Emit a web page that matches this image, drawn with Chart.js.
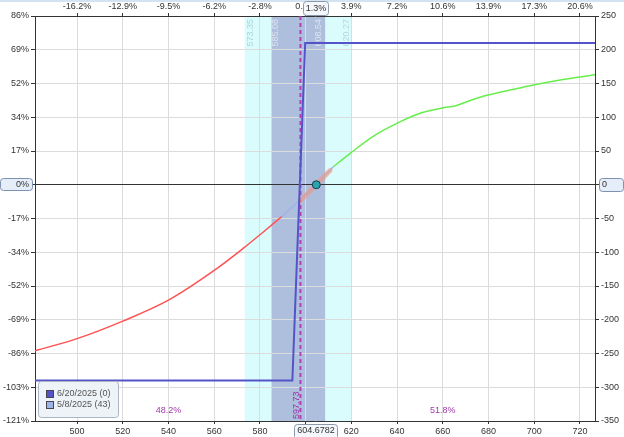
<!DOCTYPE html>
<html>
<head>
<meta charset="utf-8">
<script src="https://cdn.jsdelivr.net/npm/chart.js@4.4.0/dist/chart.umd.min.js"></script>
<style>
  html, body { margin: 0; padding: 0; background: #fff; }
  #wrap { width: 624px; height: 437px; position: relative; }
</style>
</head>
<body>
<div id="wrap"><canvas id="riskChart"></canvas></div>
<script>
// Risk graph - call spread P/L at expiration and today

// price axis
const xMin = 481.6;
const xMax = 726.6;
const xTicks = [500, 520, 540, 560, 580, 600, 620, 640, 660, 680, 700, 720];
const topLabels = ['-16.2%', '-12.9%', '-9.5%', '-6.2%', '-2.8%', '0.0%', '3.9%', '7.2%', '10.6%', '13.9%', '17.3%', '20.6%'];

// P/L axis ($ on the right, % on the left)
const yTicks = [250, 200, 150, 100, 50, 0, -50, -100, -150, -200, -250, -300, -350];
const pctLabels = ['86%', '69%', '52%', '34%', '17%', '0%', '-17%', '-34%', '-52%', '-69%', '-86%', '-103%', '-121%'];

// expiration 6/20/2025
const expPrices = [481.6, 594.2, 599.8, 726.6];
const expPL = [-290, -290, 210, 210];

// today 5/8/2025
const lossPrices = [481.6, 500, 520, 540, 560, 572.8, 581.5, 589.6];
const lossPL = [-246, -228, -202, -171, -127, -94, -70, -47];
const midPrices = [589.6, 604.68, 612.1];
const midPL = [-47, 0, 26.7];
const gainPrices = [612.1, 619.5, 629.7, 639.9, 650.1, 660.3, 665.4, 670.5, 679.3, 690.9, 699.7, 711.4, 726.6];
const gainPL = [26.7, 46.6, 72.2, 91, 105.9, 114.1, 116.7, 123, 132.5, 141.4, 147.8, 155.2, 163];

// delta slope marker round the current price
const deltaPrices = [597.6, 610.7];
const deltaPL = [-24, 21];

const outerBand = [573.35, 620.27];
const innerBand = [585.08, 608.54];
const breakEven = 597.73;
const lastPrice = 604.6782;
const lastPct = '1.3%';
const probLabels = ['48.2%', '51.8%'];
const probPrices = [540, 660];
const probY = -335;

const legendItems = ['6/20/2025 (0)', '5/8/2025 (43)'];
const legendColors = ['#5454c8', '#9db4e6'];

const FONT_FAMILY = '"Liberation Sans", Arial, sans-serif';
const FONT = '9px ' + FONT_FAMILY;

Chart.defaults.font.family = FONT_FAMILY;
Chart.defaults.font.size = 9;

function pts(xs, ys) {
  return xs.map((x, i) => ({ x: x, y: ys[i] }));
}

function box(ctx, x, y, w, h, fill, stroke) {
  ctx.beginPath();
  ctx.roundRect(x + 0.5, y + 0.5, w, h, 3);
  ctx.fillStyle = fill;
  ctx.fill();
  ctx.strokeStyle = stroke;
  ctx.lineWidth = 1;
  ctx.stroke();
}

function vText(ctx, text, x, y, align, color) {
  ctx.save();
  ctx.translate(x, y);
  ctx.rotate(-Math.PI / 2);
  ctx.textAlign = align;
  ctx.textBaseline = 'middle';
  ctx.fillStyle = color;
  ctx.fillText(text, 0, 0);
  ctx.restore();
}

const overlay = {
  id: 'overlay',
  beforeDraw(chart) {
    const { ctx, chartArea: a } = chart;
    const x = chart.scales.x;
    ctx.save();
    ctx.fillStyle = '#d4e3f2';
    ctx.fillRect(0, 0, chart.width, 2);
    const o0 = x.getPixelForValue(outerBand[0]);
    const o1 = x.getPixelForValue(outerBand[1]);
    const i0 = x.getPixelForValue(innerBand[0]);
    const i1 = x.getPixelForValue(innerBand[1]);
    ctx.fillStyle = '#dafcfc';
    ctx.fillRect(o0, a.top, o1 - o0, a.bottom - a.top);
    ctx.fillStyle = '#aebfdd';
    ctx.fillRect(i0, a.top, i1 - i0, a.bottom - a.top);
    ctx.restore();
  },
  beforeDatasetsDraw(chart) {
    const { ctx, chartArea: a } = chart;
    const x = chart.scales.x;
    const y = chart.scales.y;
    ctx.save();
    ctx.font = FONT;
    vText(ctx, outerBand[0].toFixed(2), x.getPixelForValue(outerBand[0]) + 6, a.top + 3, 'right', '#a9d6d8');
    vText(ctx, innerBand[0].toFixed(2), x.getPixelForValue(innerBand[0]) + 4, a.top + 3, 'right', '#dde3ee');
    vText(ctx, innerBand[1].toFixed(2), x.getPixelForValue(innerBand[1]) - 7, a.top + 3, 'right', '#dde3ee');
    vText(ctx, outerBand[1].toFixed(2), x.getPixelForValue(outerBand[1]) - 5, a.top + 3, 'right', '#b4d8e0');

    // break-even
    const bx = x.getPixelForValue(breakEven);
    ctx.strokeStyle = '#b040b8';
    ctx.lineWidth = 2;
    ctx.setLineDash([4, 3]);
    ctx.beginPath();
    ctx.moveTo(bx, a.top);
    ctx.lineTo(bx, a.bottom);
    ctx.stroke();
    ctx.setLineDash([]);
    vText(ctx, breakEven.toFixed(2), bx - 4, a.bottom - 2, 'left', '#a030a8');

    // probabilities
    ctx.fillStyle = '#a03aa8';
    ctx.textAlign = 'center';
    ctx.textBaseline = 'middle';
    probLabels.forEach((t, i) => {
      ctx.fillText(t, x.getPixelForValue(probPrices[i]), y.getPixelForValue(probY));
    });
    ctx.restore();
  },
  afterDraw(chart) {
    const { ctx, chartArea: a } = chart;
    const x = chart.scales.x;
    const y = chart.scales.y;
    ctx.save();
    ctx.font = FONT;
    ctx.textBaseline = 'middle';
    const lx = Math.round(x.getPixelForValue(lastPrice));
    const zy = Math.round(y.getPixelForValue(0));

    // current price boxes
    box(ctx, lx - 13, 1, 25, 14, '#f4f7fb', '#8a98aa');
    ctx.fillStyle = '#333';
    ctx.textAlign = 'center';
    ctx.fillText(lastPct, lx, 8.5);
    box(ctx, lx - 22, a.bottom + 3, 43, 15, '#f4f7fb', '#8a98aa');
    ctx.fillStyle = '#333';
    ctx.fillText(lastPrice.toString(), lx, a.bottom + 10);

    // zero boxes
    box(ctx, 0, zy - 7, 32, 12, '#e4edf8', '#7d92b2');
    ctx.fillStyle = '#333';
    ctx.textAlign = 'right';
    ctx.fillText(pctLabels[yTicks.indexOf(0)], 29, zy);
    box(ctx, a.right + 4, zy - 7, 24, 13, '#e4edf8', '#7d92b2');
    ctx.fillStyle = '#333';
    ctx.textAlign = 'left';
    ctx.fillText('0', a.right + 7, zy);

    // legend
    box(ctx, a.left + 3, 381, 80, 36, '#eef3f8', '#aab4c2');
    legendItems.forEach((t, i) => {
      const ly = 394 + i * 11;
      ctx.fillStyle = legendColors[i];
      ctx.fillRect(46.5, ly - 3.5, 7, 7);
      ctx.strokeStyle = '#445';
      ctx.lineWidth = 1;
      ctx.strokeRect(46.5, ly - 3.5, 7, 7);
      ctx.fillStyle = '#555';
      ctx.textAlign = 'left';
      ctx.fillText(t, 57, ly);
    });
    ctx.restore();
  }
};

const axisFont = { family: FONT_FAMILY, size: 9 };

new Chart(document.getElementById('riskChart'), {
  type: 'line',
  data: {
    datasets: [
      {
        label: 'now',
        data: pts([lastPrice], [0]),
        showLine: false,
        pointRadius: 4,
        pointBackgroundColor: '#2aa6b0',
        pointBorderColor: '#1c3a4a',
        pointBorderWidth: 1
      },
      {
        label: legendItems[0],
        data: pts(expPrices, expPL),
        borderColor: '#5454c8',
        borderWidth: 2,
        pointRadius: 0,
        tension: 0
      },
      {
        label: 'delta',
        data: pts(deltaPrices, deltaPL),
        borderColor: 'rgba(240, 150, 128, 0.6)',
        borderWidth: 5,
        borderCapStyle: 'round',
        pointRadius: 0
      },
      {
        label: 'mid',
        data: pts(midPrices, midPL),
        borderColor: '#9fb3ea',
        borderWidth: 1.5,
        pointRadius: 0
      },
      {
        label: legendItems[1],
        data: pts(lossPrices, lossPL),
        borderColor: '#ff5252',
        borderWidth: 1.5,
        pointRadius: 0,
        cubicInterpolationMode: 'monotone'
      },
      {
        label: 'gain',
        data: pts(gainPrices, gainPL),
        borderColor: '#66ee4c',
        borderWidth: 1.5,
        pointRadius: 0,
        cubicInterpolationMode: 'monotone'
      }
    ]
  },
  options: {
    responsive: true,
    maintainAspectRatio: false,
    animation: false,
    layout: { padding: 0 },
    plugins: {
      legend: { display: false },
      tooltip: { enabled: false }
    },
    scales: {
      x: {
        type: 'linear',
        position: 'bottom',
        min: xMin,
        max: xMax,
        afterBuildTicks: s => { s.ticks = xTicks.map(v => ({ value: v })); },
        afterFit: s => { s.height = 16; },
        grid: { color: '#dcdcdc', tickColor: '#333', tickLength: 3 },
        border: { color: '#333' },
        ticks: { font: axisFont, color: '#333', padding: 2, maxRotation: 0, autoSkip: false }
      },
      xTop: {
        type: 'linear',
        position: 'top',
        min: xMin,
        max: xMax,
        afterBuildTicks: s => { s.ticks = xTicks.map(v => ({ value: v })); },
        afterFit: s => { s.height = 16; },
        grid: { drawOnChartArea: false, tickColor: '#333', tickLength: 3 },
        border: { color: '#333' },
        ticks: {
          font: axisFont, color: '#333', padding: 1, maxRotation: 0, autoSkip: false,
          callback: v => topLabels[xTicks.indexOf(v)]
        }
      },
      y: {
        type: 'linear',
        position: 'right',
        min: -350,
        max: 250,
        afterBuildTicks: s => { s.ticks = yTicks.map(v => ({ value: v })); },
        afterFit: s => { s.width = 29; },
        grid: {
          color: c => (c.tick && c.tick.value === 0 ? '#333' : '#dcdcdc'),
          tickColor: '#333',
          tickLength: 4
        },
        border: { color: '#333' },
        ticks: { font: axisFont, color: '#333', padding: 2, autoSkip: false }
      },
      yLeft: {
        type: 'linear',
        position: 'left',
        min: -350,
        max: 250,
        afterBuildTicks: s => { s.ticks = yTicks.map(v => ({ value: v })); },
        afterFit: s => { s.width = 35; },
        grid: { drawOnChartArea: false, tickColor: '#333', tickLength: 4 },
        border: { color: '#333' },
        ticks: {
          font: axisFont, color: '#333', padding: 2, autoSkip: false,
          callback: v => pctLabels[yTicks.indexOf(v)]
        }
      }
    }
  },
  plugins: [overlay]
});
</script>
</body>
</html>
